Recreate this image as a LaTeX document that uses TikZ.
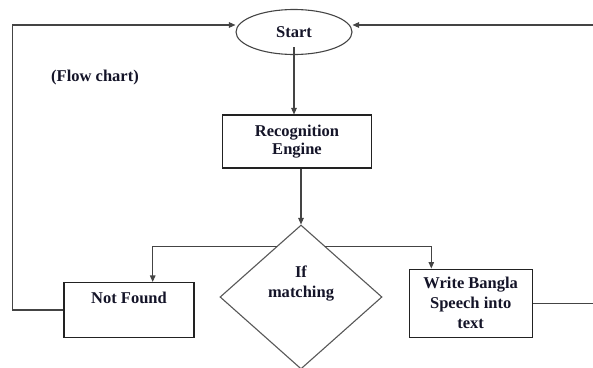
\documentclass[tikz,border=0pt]{standalone}
\usepackage{fontspec}
\setmainfont{Liberation Serif}
\usetikzlibrary{shapes.geometric,arrows.meta,calc}
\definecolor{linegray}{HTML}{444444}
\definecolor{boxblack}{HTML}{222222}
\definecolor{txt}{HTML}{141428}
\begin{document}
\begin{tikzpicture}[x=1pt,y=-1pt,
  every node/.style={font=\fontsize{16.5}{19.5}\selectfont\bfseries, text=txt},
  conn/.style={draw=linegray, line width=1.1pt},
  arr/.style={conn, -{Triangle[length=6.5pt,width=5.5pt]}},
  procbox/.style={draw=boxblack, line width=1.1pt, rectangle, inner sep=0pt, align=center},
  startshape/.style={draw=linegray, line width=1.1pt, ellipse, inner sep=0pt, minimum width=116pt, minimum height=45pt},
  decision/.style={draw=linegray!90, line width=1.1pt, diamond, inner sep=0pt, minimum width=162pt, minimum height=144pt}
]
\useasboundingbox (0,0) rectangle (593,367);

\node[startshape] (start) at (294,32) {Start};
\node (fc) at (95,78) {(Flow chart)};
\node[procbox, minimum width=149pt, minimum height=53pt, font=\fontsize{16.5}{18.5}\selectfont\bfseries] (rec) at (297,141.5) {Recognition\\Engine};
\node[decision, label={[align=center, yshift=13pt, font=\fontsize{16.5}{20}\selectfont\bfseries, text=txt]center:{If\\matching}}] (dia) at (301,297) {};
\node[procbox, minimum width=130pt, minimum height=55pt, label={[yshift=12pt, text=txt]center:{Not Found}}] (nf) at (129,310) {};
\node[procbox, minimum width=123.3pt, minimum height=68.3pt, font=\fontsize{16.5}{20}\selectfont\bfseries] (wr) at (470.7,303.2) {Write Bangla\\Speech into\\text};

\coordinate (lp) at (12.7,25);
\coordinate (rp) at (620,25);

% start -> recognition
\draw[arr] ([yshift=8pt]start.south) -- (start.south |- rec.north);
% recognition -> decision
\draw[arr] (rec.south -| dia.north) -- (dia.north);
% decision -> not found
\draw[arr] ($(dia.north)!0.3!(dia.west)$) -| ([xshift=23.7pt]nf.north);
% decision -> write
\draw[arr] ($(dia.north)!0.3!(dia.east)$) -| ([xshift=-39.4pt]wr.north);
% not found -> start (loop)
\draw[arr] (nf.west) -| (lp) -- (start.west |- lp);
% write -> start (loop off the right edge)
\draw[arr] (wr.east) -| (rp) -- (start.east |- rp);
\end{tikzpicture}
\end{document}
